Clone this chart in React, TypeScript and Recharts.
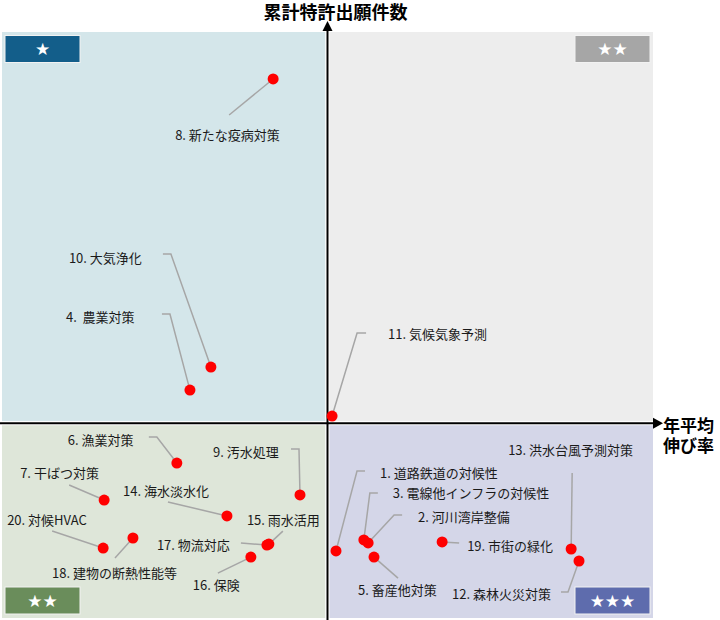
import React from "react";
import {
  ScatterChart, Scatter, XAxis, YAxis, ReferenceArea, ReferenceLine,
} from "recharts";

// 年平均伸び率 (%) と 累計特許出願件数
const ids = [1, 2, 3, 4, 5, 6, 7, 8, 9, 10, 11, 12, 13, 14, 15, 16, 17, 18, 19, 20];
const labels = [
  "1. 道路鉄道の対候性", "2. 河川湾岸整備", "3. 電線他インフラの対候性", "4.  農業対策",
  "5. 畜産他対策", "6. 漁業対策", "7. 干ばつ対策", "8. 新たな疫病対策", "9. 汚水処理",
  "10. 大気浄化", "11. 気候気象予測", "12. 森林火災対策", "13. 洪水台風予測対策",
  "14. 海水淡水化", "15. 雨水活用", "16. 保険", "17. 物流対応", "18. 建物の断熱性能等",
  "19. 市街の緑化", "20. 対候HVAC",
];
const growth = [
  10.26, 11.24, 11.11, 5.8, 11.42, 5.4, 3.18, 8.34, 9.16, 6.44,
  10.14, 17.68, 17.44, 6.93, 8.21, 7.66, 8.15, 4.06, 13.5, 3.15,
];
const filings = [
  351, 392, 407, 1169, 320, 798, 610, 2751, 636, 1286,
  1037, 300, 361, 529, 386, 320, 381, 417, 397, 366,
];
const X_DOMAIN = [0, 20];
const Y_DOMAIN = [0, 3000];
const X_SPLIT = 10;
const Y_SPLIT = 1000;

const points = ids.map((id, i) => ({ id, x: growth[i], y: filings[i], label: labels[i] }));

// label placement relative to each dot: text start, and leader path from label side toward the dot
const LAYOUT: Record<number, { tx: number; ty: number; path: number[][] }> = {
  1: { tx: 44, ty: -78, path: [[29, -80], [21, -80]] },
  2: { tx: 50, ty: -26, path: [[34, -28], [26, -28]] },
  3: { tx: 29, ty: -47, path: [[14, -47], [6, -47]] },
  4: { tx: -124, ty: -74, path: [[-28, -76], [-20, -76]] },
  5: { tx: -16, ty: 32, path: [[24, 21]] },
  6: { tx: -109, ty: -24, path: [[-28, -26], [-20, -26]] },
  7: { tx: -84, ty: -28, path: [[-35, -15]] },
  8: { tx: -98, ty: 56, path: [[-44, 36]] },
  9: { tx: -87, ty: -43, path: [[-9, -46], [-1, -46]] },
  10: { tx: -142, ty: -110, path: [[-48, -113], [-40, -113]] },
  11: { tx: 56, ty: -83, path: [[34, -83], [25, -83]] },
  12: { tx: -127, ty: 32, path: [[-18, 31], [-11, 31]] },
  13: { tx: -63, ty: -100, path: [[1, -76]] },
  14: { tx: -104, ty: -25, path: [[-59, -14]] },
  15: { tx: -22, ty: -25, path: [[14, -13]] },
  16: { tx: -58, ty: 27, path: [[-33, 16]] },
  17: { tx: -110, ty: -1, path: [[-26, -2]] },
  18: { tx: -81, ty: 35, path: [[-18, 20]] },
  19: { tx: 25, ty: 4, path: [[17, 1]] },
  20: { tx: -96, ty: -29, path: [[-51, -17]] },
};

const FONT = "'Noto Sans CJK JP', 'Noto Sans', sans-serif";

const LabelShape = (props: any) => {
  const { cx, cy, payload } = props;
  const l = LAYOUT[payload.id];
  const pts = [...l.path, [0, 0]].map(([dx, dy]) => `${cx + dx},${cy + dy}`).join(" ");
  return (
    <g>
      <polyline points={pts} fill="none" stroke="#A6A6A6" strokeWidth={1.5} />
      <text
        x={cx + l.tx} y={cy + l.ty} dominantBaseline="central" fontSize={13}
        fontFamily={FONT} fill="#1A1A1A" style={{ whiteSpace: "pre" }}
      >
        {payload.label}
      </text>
    </g>
  );
};

const DotShape = (props: any) => <circle cx={props.cx} cy={props.cy} r={5.5} fill="#FF0000" />;

const Badge = ({ viewBox, corner, fill, stars }: any) => {
  const w = 75, h = 27;
  const x = corner.includes("l") ? viewBox.x + 5 : viewBox.x + viewBox.width - w - 5;
  const y = corner.includes("t") ? viewBox.y + 5.5 : viewBox.y + viewBox.height - h - 6;
  return (
    <g>
      <rect x={x} y={y} width={w} height={h} fill={fill} stroke="#F2F2F2" strokeWidth={1} />
      <text x={x + w / 2} y={y + h / 2} textAnchor="middle" dominantBaseline="central"
        fontSize={17} fill="#fff" fontFamily="'DejaVu Sans', sans-serif">
        {stars}
      </text>
    </g>
  );
};

const VArrow = ({ viewBox }: any) => {
  const x = viewBox.x, y = viewBox.y;
  return (
    <g>
      <polygon points={`${x - 5},${y + 1} ${x},${y - 9} ${x + 5},${y + 1}`} fill="#000" />
      <text x={x + 8} y={y - 19.5} textAnchor="middle" dominantBaseline="central"
        fontSize={18} fontWeight="bold" fontFamily={FONT} fill="#000">
        累計特許出願件数
      </text>
    </g>
  );
};

const HArrow = ({ viewBox }: any) => {
  const x = viewBox.x + viewBox.width, y = viewBox.y;
  return (
    <g>
      <polygon points={`${x - 2},${y - 5.5} ${x + 8},${y} ${x - 2},${y + 5.5}`} fill="#000" />
      <text x={x + 8} y={y + 1} dominantBaseline="central"
        fontSize={17} fontWeight="bold" fontFamily={FONT} fill="#000">
        年平均
      </text>
      <text x={x + 8} y={y + 21} dominantBaseline="central"
        fontSize={17} fontWeight="bold" fontFamily={FONT} fill="#000">
        伸び率
      </text>
    </g>
  );
};

export default function App() {
  return (
    <div style={{ width: 720, height: 620 }}>
      <style>{"body{margin:0}"}</style>
      <ScatterChart width={720} height={620} margin={{ top: 30, right: 65, bottom: 0, left: 0 }}>
        <XAxis type="number" dataKey="x" domain={X_DOMAIN} hide />
        <YAxis type="number" dataKey="y" domain={Y_DOMAIN} hide />

        <ReferenceArea x1={X_DOMAIN[0]} x2={X_SPLIT} y1={Y_SPLIT} y2={Y_DOMAIN[1]}
          fill="#D4E6EA" fillOpacity={1} stroke="#fff" strokeWidth={4}
          label={<Badge corner="tl" fill="#135E8A" stars="★" />} />
        <ReferenceArea x1={X_SPLIT} x2={X_DOMAIN[1]} y1={Y_SPLIT} y2={Y_DOMAIN[1]}
          fill="#EDEDED" fillOpacity={1} stroke="#fff" strokeWidth={4}
          label={<Badge corner="tr" fill="#A6A6A6" stars="★★" />} />
        <ReferenceArea x1={X_DOMAIN[0]} x2={X_SPLIT} y1={Y_DOMAIN[0]} y2={Y_SPLIT}
          fill="#DEE6D9" fillOpacity={1} stroke="#fff" strokeWidth={4}
          label={<Badge corner="bl" fill="#6A8D5B" stars="★★" />} />
        <ReferenceArea x1={X_SPLIT} x2={X_DOMAIN[1]} y1={Y_DOMAIN[0]} y2={Y_SPLIT}
          fill="#D4D6E8" fillOpacity={1} stroke="#fff" strokeWidth={4}
          label={<Badge corner="br" fill="#5E6CAD" stars="★★★" />} />

        <ReferenceLine x={X_SPLIT} stroke="#000" strokeWidth={2} label={<VArrow />} />
        <ReferenceLine y={Y_SPLIT} stroke="#000" strokeWidth={2} label={<HArrow />} />

        <Scatter data={points} shape={LabelShape} isAnimationActive={false} />
        <Scatter data={points} shape={DotShape} isAnimationActive={false} />
      </ScatterChart>
    </div>
  );
}
